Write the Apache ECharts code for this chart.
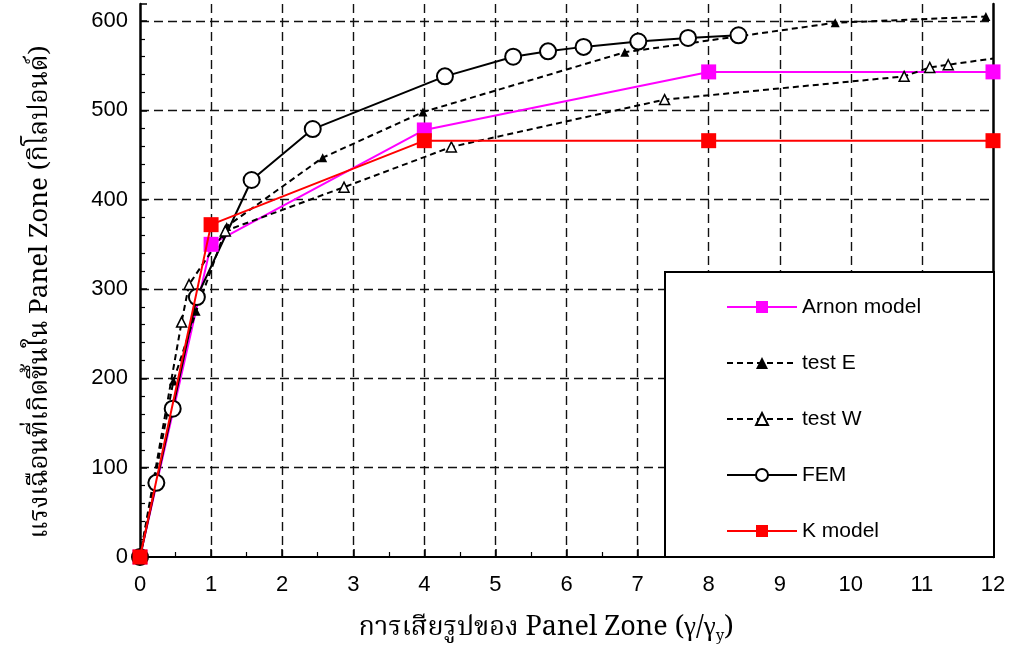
<!DOCTYPE html>
<html>
<head>
<meta charset="utf-8">
<script src="https://cdn.jsdelivr.net/npm/echarts@6/dist/echarts.min.js"></script>
<style>
  html, body { margin: 0; padding: 0; background: #fff; }
  #chart { width: 1014px; height: 651px; }
</style>
</head>
<body>
<div id="chart"></div>
<script>
// Shear deformation of the panel zone (γ/γy) vs. shear force (kip)
const seriesNames = ['Arnon model', 'test E', 'test W', 'FEM', 'K model'];

const arnonModel = [[0, 0], [1, 350], [4, 478], [8, 543], [12, 543]];
const testE = [[0, 0], [0.47, 197], [0.79, 275], [1.22, 370], [2.57, 447], [3.98, 498],
               [6.82, 565], [9.78, 598], [11.9, 605]];
const testW = [[0, 0], [0.585, 263], [0.69, 305], [1.2, 365], [2.87, 414], [4.38, 459],
               [7.38, 512], [10.75, 538], [11.11, 548], [11.37, 551], [12, 558]];
const fem = [[0, 0], [0.23, 83], [0.46, 166], [0.80, 291], [1.57, 422], [2.43, 479],
             [4.29, 538], [5.25, 560], [5.74, 566], [6.24, 571], [7.01, 577], [7.71, 581], [8.42, 584]];
const kModel = [[0, 0], [1, 372], [4, 466], [8, 466], [12, 466]];

const xTicks = [0, 1, 2, 3, 4, 5, 6, 7, 8, 9, 10, 11, 12];
const yTicks = [0, 100, 200, 300, 400, 500, 600];

const xTitle = 'การเสียรูปของ Panel Zone (γ/γ';
const xTitleSub = 'y';
const yTitle = 'แรงเฉือนที่เกิดขึ้นใน Panel Zone (กิโลปอนด์)';

const thaiFont = "'Noto Serif Thai','Noto Sans Thai','Liberation Serif','DejaVu Serif',serif";
const tickFont = "'Liberation Sans', Arial, sans-serif";

// the last measured point of test W has no marker (line runs into the frame)
const testWData = testW.map((p, i) => i === testW.length - 1 ? { value: p, symbol: 'none' } : p);

const gridDash = { color: '#111', width: 1.4, type: [9, 5] };

const chart = echarts.init(document.getElementById('chart'), null, { renderer: 'canvas' });
chart.setOption({
  animation: false,
  backgroundColor: '#fff',
  grid: { left: 140, right: 21, top: 4, bottom: 94 },
  xAxis: {
    type: 'value',
    min: xTicks[0],
    max: xTicks[xTicks.length - 1],
    interval: 1,
    axisLine: { show: true, onZero: false, lineStyle: { color: '#000', width: 2 } },
    axisTick: { show: true, inside: true, length: 8, lineStyle: { color: '#000', width: 1.5 } },
    minorTick: { show: true, splitNumber: 2, length: 5, lineStyle: { color: '#000', width: 1.2 } },
    axisLabel: { color: '#000', fontSize: 22, fontFamily: tickFont, margin: 17 },
    splitLine: { show: true, lineStyle: gridDash, showMinLine: false, showMaxLine: false }
  },
  yAxis: [{
    type: 'value',
    min: 0,
    max: 619,
    interval: 100,
    axisLine: { show: true, onZero: false, lineStyle: { color: '#000', width: 2.5 } },
    axisTick: { show: true, inside: true, length: 7, lineStyle: { color: '#000', width: 1.5 } },
    minorTick: { show: true, splitNumber: 5, length: 5, lineStyle: { color: '#000', width: 1.2 } },
    axisLabel: {
      color: '#000', fontSize: 22, fontFamily: tickFont, margin: 12,
      showMaxLabel: false,
      formatter: v => (yTicks.indexOf(v) >= 0 ? String(v) : '')
    },
    splitLine: { show: true, lineStyle: gridDash, showMinLine: false, showMaxLine: false }
  }, {
    type: 'value',
    position: 'right',
    min: 0,
    max: 619,
    axisLine: { show: true, onZero: false, lineStyle: { color: '#000', width: 2.5 } },
    axisTick: { show: false },
    axisLabel: { show: false },
    splitLine: { show: false }
  }],
  legend: {
    orient: 'vertical',
    left: 721,
    top: 291,
    itemWidth: 70,
    itemHeight: 15,
    itemGap: 34,
    z: 10,
    data: seriesNames,
    textStyle: { color: '#000', fontSize: 21, fontFamily: tickFont, lineHeight: 22 }
  },
  graphic: [
    {
      type: 'rect',
      z: 5,
      shape: { x: 665, y: 272, width: 329, height: 285 },
      style: { fill: '#fff', stroke: '#000', lineWidth: 2 }
    },
    {
      type: 'text',
      x: 546, y: 631,
      style: {
        text: '{a|' + xTitle + '}{s|' + xTitleSub + '}{a|)}',
        align: 'center', verticalAlign: 'middle',
        rich: {
          a: { fontSize: 27, fontFamily: thaiFont, fill: '#000' },
          s: { fontSize: 15, fontFamily: thaiFont, fill: '#000', padding: [14, 0, 0, 0] }
        }
      }
    },
    {
      type: 'text',
      x: 43, y: 292,
      rotation: Math.PI / 2,
      style: {
        text: yTitle,
        align: 'center', verticalAlign: 'middle',
        fontSize: 26, fontFamily: thaiFont, fill: '#000'
      }
    }
  ],
  series: [
    {
      name: seriesNames[0], type: 'line', data: arnonModel, clip: false, z: 3,
      symbol: 'rect', symbolSize: 15,
      itemStyle: { color: '#ff00ff' },
      lineStyle: { color: '#ff00ff', width: 2 }
    },
    {
      name: seriesNames[1], type: 'line', data: testE, clip: false, z: 3,
      symbol: 'triangle', symbolSize: 9,
      itemStyle: { color: '#000' },
      lineStyle: { color: '#000', width: 2, type: [6, 4] }
    },
    {
      name: seriesNames[2], type: 'line', data: testWData, clip: false, z: 3,
      symbol: 'triangle', symbolSize: 10,
      itemStyle: { color: '#fff', borderColor: '#000', borderWidth: 1.5 },
      lineStyle: { color: '#000', width: 2, type: [6, 4] }
    },
    {
      name: seriesNames[3], type: 'line', data: fem, clip: false, z: 3,
      symbol: 'circle', symbolSize: 16,
      itemStyle: { color: '#fff', borderColor: '#000', borderWidth: 2 },
      lineStyle: { color: '#000', width: 2 }
    },
    {
      name: seriesNames[4], type: 'line', data: kModel, clip: false, z: 4,
      symbol: 'rect', symbolSize: 15,
      itemStyle: { color: '#ff0000' },
      lineStyle: { color: '#ff0000', width: 2 }
    }
  ]
});
</script>
</body>
</html>
